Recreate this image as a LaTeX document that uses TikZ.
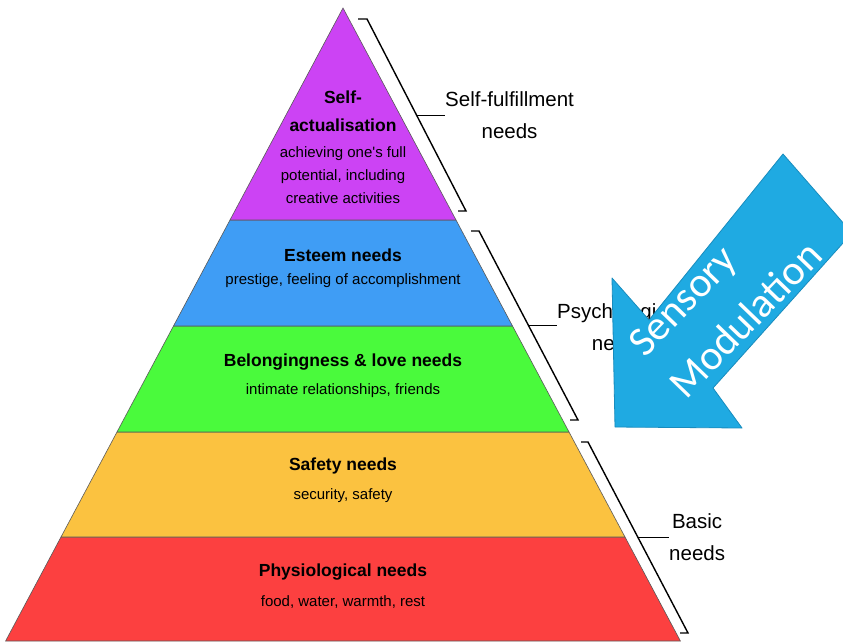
\documentclass[tikz,border=0pt]{standalone}
\usepackage{fontspec}
\setmainfont{Liberation Sans}
\newfontfamily\arrowfont{Carlito}
\definecolor{selfcol}{RGB}{204,67,244}
\definecolor{esteemcol}{RGB}{63,157,245}
\definecolor{lovecol}{RGB}{74,250,60}
\definecolor{safecol}{RGB}{251,194,64}
\definecolor{physcol}{RGB}{252,64,64}
\definecolor{arrowcol}{RGB}{31,170,226}
\definecolor{arrowedge}{RGB}{24,140,190}
\begin{document}
\begin{tikzpicture}[x=1pt,y=-1pt,
    layer/.style={draw=black!65,line width=0.6pt},
    title/.style={font=\fontsize{17.5}{28}\selectfont\bfseries,align=center,inner sep=0pt},
    desc/.style={font=\fontsize{15}{23}\selectfont,align=center,inner sep=0pt},
    side/.style={font=\fontsize{20.5}{32}\selectfont,align=center,inner sep=0pt,anchor=west},
    brace/.style={line width=1.4pt},
    modtext/.style={font=\arrowfont\fontsize{42}{50}\selectfont,text=white,rotate=46,inner sep=0pt}]
  \useasboundingbox (0,0) rectangle (843,641);
  \fill[white] (0,0) rectangle (843,641);
  \draw[layer,fill=physcol] (5.6,641) -- (61,537) -- (625,537) -- (680.4,641) -- cycle;
  \draw[layer,fill=safecol] (61,537) -- (117,432) -- (569,432) -- (625,537) -- cycle;
  \draw[layer,fill=lovecol] (117,432) -- (173.5,326) -- (512.5,326) -- (569,432) -- cycle;
  \draw[layer,fill=esteemcol] (173.5,326) -- (230,220) -- (456,220) -- (512.5,326) -- cycle;
  \draw[layer,fill=selfcol] (230,220) -- (343,8) -- (456,220) -- cycle;

  \node[title] (t1) at (343,111) {Self-\\actualisation};
  \node[desc] (d1) at (343,175) {achieving one\textquotesingle s full\\potential, including\\creative activities};
  \node[title] (t2) at (343,255) {Esteem needs};
  \node[desc] (d2) at (343,281) {prestige, feeling of accomplishment};
  \node[title] (t3) at (343,362) {Belongingness \& love needs};
  \node[desc] (d3) at (343,391) {intimate relationships, friends};
  \node[title] (t4) at (343,466) {Safety needs};
  \node[desc] (d4) at (343,496) {security, safety};
  \node[title] (t5) at (343,572) {Physiological needs};
  \node[desc] (d5) at (343,602) {food, water, warmth, rest};

  \coordinate (b1a) at (358,19);
  \coordinate (b1b) at (367,19);
  \coordinate (b1c) at (466,211);
  \coordinate (b1d) at (458,211);
  \coordinate (b2a) at (471,231);
  \coordinate (b2b) at (479,231);
  \coordinate (b2c) at (578,420);
  \coordinate (b2d) at (570,420);
  \coordinate (b3a) at (581,442);
  \coordinate (b3b) at (588,442);
  \coordinate (b3c) at (688,633);
  \coordinate (b3d) at (680,633);
  \path (b1b) -- (b1c) coordinate[pos=0.5] (b1m);
  \path (b2b) -- (b2c) coordinate[pos=0.5] (b2m);
  \path (b3b) -- (b3c) coordinate[pos=0.5] (b3m);

  \node[side] (s1) at (445,115) {Self-fulfillment\\needs};
  \node[side] (s2) at (557,327) {Psychological\\needs};
  \node[side] (s3) at (669,537) {Basic\\needs};

  \begin{scope}[brace]
    \draw (b1a) -- (b1b) -- (b1c) -- (b1d);
    \draw (b2a) -- (b2b) -- (b2c) -- (b2d);
    \draw (b3a) -- (b3b) -- (b3c) -- (b3d);
    \draw[line width=1pt] (b1m) -- (b1m -| s1.west);
    \draw[line width=1pt] (b2m) -- (b2m -| s2.west);
    \draw[line width=1pt] (b3m) -- (b3m -| s3.west);
  \end{scope}

  \begin{scope}
    \clip (0,0) rectangle (843,641);
    \draw[fill=arrowcol,draw=arrowedge,line width=0.8pt,line join=round]
      (783,154) -- (852,233) -- (713,388) -- (742,428) -- (615,427)
      -- (612,278) -- (649,320) -- cycle;
  \end{scope}
  \node[modtext] (m1) at (685,303) {Sensory};
  \node[modtext] (m2) at (745,319) {Modulation};
\end{tikzpicture}
\end{document}
